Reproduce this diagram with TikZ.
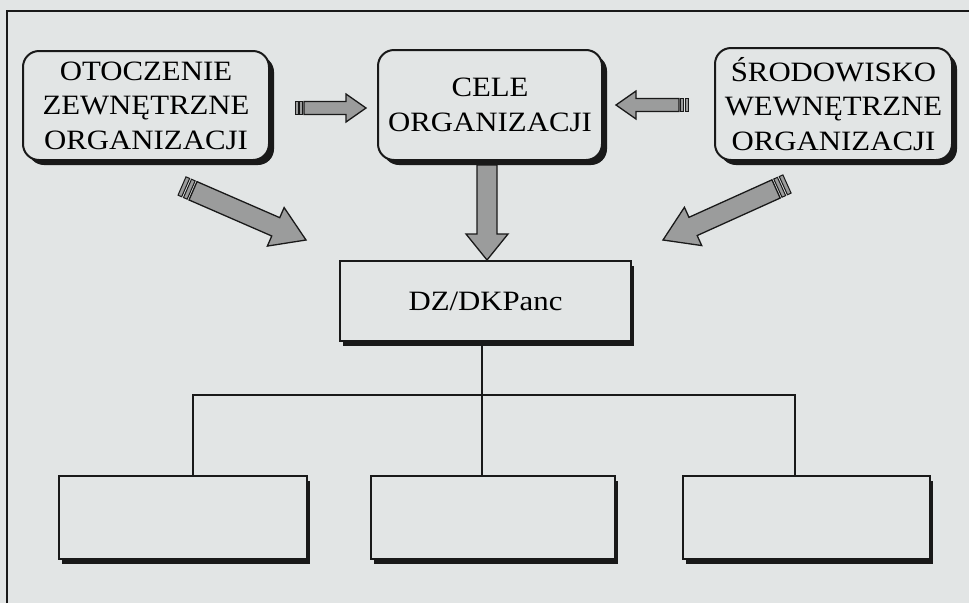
\documentclass[tikz,border=0pt]{standalone}
\usepackage{fontspec}
\setmainfont[FakeStretch=1.1]{Liberation Serif}
\usetikzlibrary{calc}

\definecolor{paper}{RGB}{226,229,229}
\definecolor{arrowgray}{RGB}{155,156,156}
\definecolor{ink}{RGB}{25,25,25}

\tikzset{
  labelfont/.style={font=\fontsize{28}{34.5}\selectfont},
  roundbox/.style={draw=ink, line width=2pt, fill=paper, rounded corners=16pt,
    align=center, inner sep=0pt, labelfont,
    preaction={fill=ink, transform canvas={xshift=5pt, yshift=-5pt}}},
  plainbox/.style={draw=ink, line width=1.5pt, fill=paper, inner sep=0pt,
    preaction={fill=ink, transform canvas={xshift=2.5pt, yshift=-4.5pt}}},
  arrowbody/.style={fill=arrowgray, draw=ink, line width=1.3pt, line join=miter},
  link/.style={draw=ink, line width=1.2pt},
}

% block arrow: #1 tail, #2 tip, #3 shaft half-width, #4 head half-width, #5 head length
\newcommand\fatarrow[5]{%
  \coordinate (fa-h) at ($(#2)!#5!(#1)$);
  \filldraw[arrowbody] ($(#1)!#3!90:(#2)$) -- ($(fa-h)!#3!90:(#2)$)
    -- ($(fa-h)!#4!90:(#2)$) -- (#2) -- ($(fa-h)!#4!-90:(#2)$)
    -- ($(fa-h)!#3!-90:(#2)$) -- ($(#1)!#3!-90:(#2)$) -- cycle;}

% band across the tail: #1 tail, #2 tip, #3 from, #4 to, #5 half-width
\newcommand\tailband[5]{%
  \coordinate (tb-a) at ($(#1)!#3!(#2)$);
  \coordinate (tb-b) at ($(#1)!#4!(#2)$);
  \filldraw[arrowbody, line width=1pt] ($(tb-a)!#5!90:(#2)$) -- ($(tb-b)!#5!90:(#2)$)
    -- ($(tb-b)!#5!-90:(#2)$) -- ($(tb-a)!#5!-90:(#2)$) -- cycle;}

% striped block arrow: #1 tail, #2 tip, #3 shaft half-width, #4 head half-width,
% #5 head length, #6 band length
\newcommand\stripedarrow[6]{%
  \tailband{#1}{#2}{0pt}{#6}{#3}%
  \tailband{#1}{#2}{1.5*#6}{2.5*#6}{#3}%
  \coordinate (sa-s) at ($(#1)!3*#6!(#2)$);
  \fatarrow{sa-s}{#2}{#3}{#4}{#5}}

\begin{document}
\begin{tikzpicture}[x=1pt, y=-1pt]
\useasboundingbox (0,0) rectangle (969,603);
\fill[paper] (0,0) rectangle (969,603);
\draw[ink, line width=2pt] (7,603) -- (7,11) -- (969,11);

% upper row
\node[roundbox, minimum width=246, minimum height=109] (env) at (146,105.5)
  {OTOCZENIE\\ZEWNĘTRZNE\\ORGANIZACJI};
\node[roundbox, minimum width=224, minimum height=110] (goals) at (490,105)
  {CELE\\ORGANIZACJI};
\node[roundbox, minimum width=237, minimum height=112] (inner) at (833.5,104)
  {ŚRODOWISKO\\WEWNĘTRZNE\\ORGANIZACJI};

% decision box
\node[plainbox, labelfont, minimum width=291, minimum height=80] (dz) at (485.5,301)
  {DZ/DKPanc};

% lower row
\node[plainbox, minimum width=248, minimum height=83] (b1) at (183,517.5) {};
\node[plainbox, minimum width=244, minimum height=83] (b2) at (493,517.5) {};
\node[plainbox, minimum width=247, minimum height=83] (b3) at (806.5,517.5) {};

% tree connectors
\coordinate (j)  at (482,395);
\coordinate (jl) at (193,395);
\coordinate (jr) at (795,395);
\draw[link] (dz.south -| j) -- (j);
\draw[link] (b1.north -| jl) -- (jl) -- (jr) -- (b3.north -| jr);
\draw[link] (j) -- (b2.north -| j);

% block arrows
\coordinate (a1t) at (295,108); \coordinate (a1h) at (366,108);
\coordinate (a2t) at (688,105); \coordinate (a2h) at (616,105);
\coordinate (a3t) at (487,165); \coordinate (a3h) at (487,260);
\coordinate (a4t) at (182,186); \coordinate (a4h) at (306,240);
\coordinate (a5t) at (787,184); \coordinate (a5h) at (663,240);

\stripedarrow{a1t}{a1h}{6.5pt}{14pt}{20pt}{3pt}
\stripedarrow{a2t}{a2h}{6.5pt}{14pt}{20pt}{3pt}
\fatarrow{a3t}{a3h}{10pt}{21pt}{26pt}
\stripedarrow{a4t}{a4h}{10pt}{21pt}{33pt}{4pt}
\stripedarrow{a5t}{a5h}{10pt}{21pt}{33pt}{4pt}
\end{tikzpicture}
\end{document}
